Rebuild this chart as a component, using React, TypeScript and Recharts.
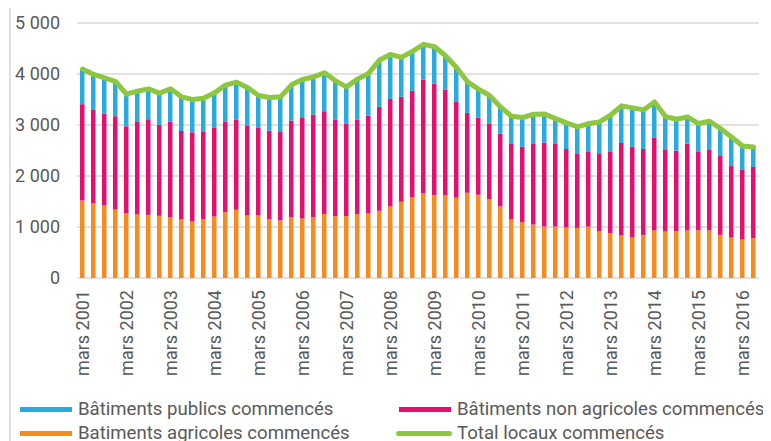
import { Bar, CartesianGrid, ComposedChart, Line, XAxis, YAxis } from "recharts";

const years = [2001, 2002, 2003, 2004, 2005, 2006, 2007, 2008, 2009, 2010, 2011, 2012, 2013, 2014, 2015, 2016];
const months = ["mars", "juin", "sept.", "déc."];
const quarters = years.flatMap((y) => months.map((m) => `${m} ${y}`)).slice(0, 62);

// Bâtiments agricoles commencés (orange, bas de la pile)
const agricoles = [
  1520, 1461, 1422, 1343, 1265, 1245, 1238, 1219, 1186, 1147, 1107, 1155,
  1206, 1291, 1337, 1225, 1225, 1147, 1127, 1193, 1166, 1193, 1252, 1212,
  1212, 1252, 1265, 1317, 1402, 1494, 1579, 1658, 1625, 1619, 1573, 1671,
  1632, 1540, 1402, 1147, 1088, 1048, 1009, 1009, 990, 983, 1009, 917,
  878, 832, 793, 845, 931, 911, 917, 931, 935, 931, 845, 793, 754, 780,
];

// Bâtiments non agricoles commencés (rose)
const nonAgricoles = [
  1888, 1835, 1796, 1829, 1710, 1828, 1875, 1789, 1874, 1736, 1750, 1709,
  1736, 1769, 1763, 1757, 1717, 1743, 1750, 1893, 1986, 2011, 2018, 1888,
  1809, 1848, 1920, 2038, 2110, 2058, 2091, 2228, 2189, 2070, 1880, 1566,
  1513, 1481, 1429, 1494, 1487, 1580, 1645, 1619, 1540, 1448, 1475, 1514,
  1606, 1815, 1782, 1685, 1815, 1599, 1580, 1703, 1549, 1579, 1547, 1402,
  1376, 1396,
];

// Bâtiments publics commencés (bleu, haut de la pile)
const publics = [
  688, 695, 707, 681, 629, 590, 596, 616, 649, 669, 642, 662,
  688, 721, 740, 753, 636, 649, 675, 702, 740, 741, 754, 766,
  727, 799, 826, 918, 872, 773, 773, 695, 721, 669, 675, 610,
  557, 557, 524, 531, 570, 583, 563, 498, 511, 531, 544, 629,
  707, 728, 761, 766, 707, 655, 616, 525, 544, 563, 537, 570,
  458, 393,
];

// Total locaux commencés (ligne verte)
const total = [
  4096, 3991, 3925, 3853, 3604, 3663, 3709, 3624, 3709, 3552, 3499, 3526,
  3630, 3781, 3840, 3735, 3578, 3539, 3552, 3788, 3892, 3945, 4024, 3866,
  3748, 3899, 4011, 4273, 4384, 4325, 4443, 4581, 4535, 4358, 4128, 3847,
  3702, 3578, 3355, 3172, 3145, 3211, 3217, 3126, 3041, 2962, 3028, 3060,
  3191, 3375, 3336, 3296, 3453, 3165, 3113, 3159, 3028, 3073, 2929, 2765,
  2588, 2569,
];

const yTicks = [0, 1000, 2000, 3000, 4000, 5000];

const data = quarters.map((q, i) => ({
  q,
  agricoles: agricoles[i],
  nonAgricoles: nonAgricoles[i],
  publics: publics[i],
  total: total[i],
}));

const FONT = "Roboto, sans-serif";
const TEXT = "#595959";

const fmt = (v: number) => (v === 0 ? "0" : `${v / 1000} 000`);

const XTick = (props: any) => {
  const { x, y, payload } = props;
  return (
    <text
      x={x}
      y={y}
      transform={`rotate(-90, ${x}, ${y})`}
      textAnchor="end"
      dy="0.35em"
      fill={TEXT}
      fontSize={18}
      fontFamily={FONT}
    >
      {payload.value}
    </text>
  );
};

const legendItems = [
  { label: "Bâtiments publics commencés", color: "#29abe2", left: 12, top: 391, line: false },
  { label: "Bâtiments non agricoles commencés", color: "#e4106f", left: 391, top: 391, line: false },
  { label: "Batiments agricoles commencés", color: "#f68b1f", left: 12, top: 415, line: false },
  { label: "Total locaux commencés", color: "#8dc63f", left: 388, top: 415, line: true },
];

export default function App() {
  return (
    <div style={{ position: "relative", width: 763, height: 433, fontFamily: FONT, overflow: "hidden" }}>
      <div style={{ position: "absolute", left: 1, top: 0, width: 2, height: 433, background: "#e0e0e0" }} />
      <div style={{ position: "absolute", left: 761, top: 0, width: 2, height: 433, background: "#e0e0e0" }} />
      <ComposedChart
        width={763}
        height={433}
        data={data}
        margin={{ top: 15, right: 12, bottom: 0, left: 0 }}
        barCategoryGap={0}
      >
        <CartesianGrid vertical={false} stroke="#d9d9d9" strokeWidth={1.5} />
        <XAxis
          dataKey="q"
          interval={3}
          height={163}
          axisLine={false}
          tickLine={false}
          tickMargin={6}
          tick={<XTick />}
        />
        <YAxis
          width={69}
          domain={[0, 5000]}
          ticks={yTicks}
          tickFormatter={fmt}
          axisLine={false}
          tickLine={false}
          tickMargin={11}
          tick={{ fill: TEXT, fontSize: 18, fontFamily: FONT }}
        />
        <Bar dataKey="agricoles" stackId="a" fill="#f68b1f" barSize={4.5} isAnimationActive={false} />
        <Bar dataKey="nonAgricoles" stackId="a" fill="#e4106f" barSize={4.5} isAnimationActive={false} />
        <Bar dataKey="publics" stackId="a" fill="#29abe2" barSize={4.5} isAnimationActive={false} />
        <Line
          dataKey="total"
          type="linear"
          stroke="#8dc63f"
          strokeWidth={5}
          strokeLinejoin="round"
          strokeLinecap="round"
          dot={false}
          isAnimationActive={false}
        />
      </ComposedChart>
      {legendItems.map((it) => (
        <div
          key={it.label}
          style={{
            position: "absolute",
            left: it.left,
            top: it.top,
            display: "flex",
            alignItems: "center",
            whiteSpace: "nowrap",
            fontSize: 18.6,
            color: TEXT,
            lineHeight: "20px",
          }}
        >
          <span
            style={{
              display: "inline-block",
              width: it.line ? 56 : 52,
              height: 5,
              background: it.color,
              borderRadius: it.line ? 3 : 0,
              marginRight: it.line ? 5 : 6,
            }}
          />
          {it.label}
        </div>
      ))}
    </div>
  );
}
